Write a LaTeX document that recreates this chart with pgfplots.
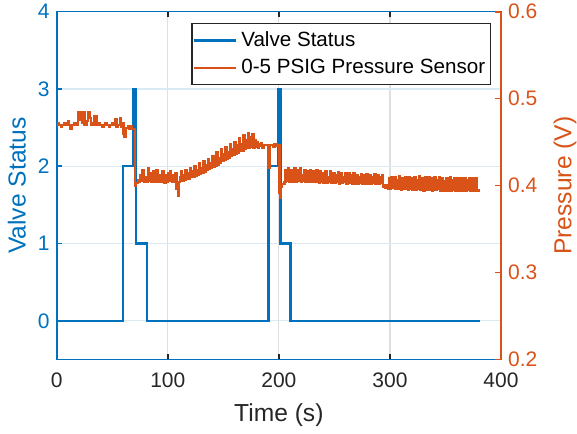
\documentclass[border=0pt]{standalone}
\usepackage{fontspec}
\setmainfont{Liberation Sans}
\usepackage{pgfplots}
\pgfplotsset{compat=1.18}

\definecolor{mblue}{RGB}{0,114,189}
\definecolor{morange}{RGB}{217,83,25}
\definecolor{mgray}{RGB}{38,38,38}
\definecolor{xgrid}{RGB}{223,223,223}
\definecolor{ygrid}{RGB}{217,234,245}

\pgfplotsset{
  common/.style={
    width=222.15pt, height=173.9pt, scale only axis,
    xmin=0, xmax=400,
    tick align=inside,
    major tick length=2.8pt,
    /pgf/number format/assume math mode=true,
    tick label style={font=\fontsize{10.5}{12}\selectfont},
    label style={font=\fontsize{12.3}{14}\selectfont},
  },
}

\begin{document}
\begin{tikzpicture}
\begin{axis}[
  common,
  ymin=-0.5, ymax=4,
  ytick={0,1,2,3,4},
  xtick={0,100,200,300,400},
  ytick pos=left,
  xmajorgrids, ymajorgrids,
  x grid style={xgrid, line width=0.6pt},
  y grid style={ygrid, line width=0.6pt},
  axis line style={mgray, line width=0.8pt},
  y axis line style={mblue},
  x tick style={mgray, line width=0.8pt},
  y tick style={mblue, line width=0.8pt},
  xticklabel style={text=mgray, yshift=-3pt},
  yticklabel style={text=mblue},
  xlabel={Time (s)},
  ylabel={Valve Status},
  xlabel style={text=mgray, yshift=-1.5pt},
  ylabel style={text=mblue, at={(axis description cs:-0.09,0.5)}, anchor=center, rotate=0},
]
\addplot[const plot, mblue, line width=1.2pt] coordinates {
  (0,0) (59.5,2) (69.3,3) (71.3,1) (81.5,0) (190.5,2) (199.3,3) (201.6,1) (210.6,0) (381,0)
};
\end{axis}
\begin{axis}[
  common,
  ymin=0.2, ymax=0.6,
  ytick={0.2,0.3,0.4,0.5,0.6},
  yticklabels={0.2,0.3,0.4,0.5,0.6},
  axis x line=none,
  axis y line*=right,
  y axis line style={morange, line width=0.8pt},
  y tick style={morange, line width=0.8pt},
  yticklabel style={text=morange},
  ylabel={Pressure (V)},
  ylabel style={text=morange, at={(axis description cs:1.144,0.5)}, anchor=center, rotate=0},
  legend cell align=left,
  legend style={at={(0.977,0.9667)}, anchor=north east, draw=mgray, line width=0.6pt,
    fill=white, font=\fontsize{10.3}{12.5}\selectfont, row sep=1pt, inner xsep=0.5pt, inner ysep=1.8pt},
  legend image code/.code={\draw[#1, line width=1.2pt] (0pt,0pt) -- (21pt,0pt);},
]
\addlegendimage{mblue}
\addlegendentry{Valve Status}
\addplot[const plot, morange, line width=1.2pt] coordinates {
  (0,.470) (1,.472) (2,.470) (4,.468) (5,.470) (7,.472) (8,.470) (10,.474) (11,.470) (12,.465)
  (14,.470) (16,.472) (17,.470) (19,.484) (20,.476) (21,.484) (23,.472) (24,.484) (25,.470)
  (27,.474) (28,.484) (30,.478) (31,.470) (33,.472) (34,.480) (36,.470) (38,.472) (39,.470)
  (41,.468) (42,.470) (44,.472) (45,.470) (47,.468) (48,.470) (50,.472) (51,.470) (53,.476)
  (54,.468) (55,.470) (57,.478) (58,.468) (59,.472) (60,.460) (61,.456) (62,.466) (64,.468)
  (65,.465) (67,.468) (68,.465)
  (70.5,.400) (71.5,.403) (73,.406) (74,.404) (75,.412) (76,.405) (77,.418) (78,.406) (79,.404)
  (80,.410) (81,.404) (82,.420) (83,.406) (84,.414) (85,.404) (86,.408) (87,.416) (88,.404)
  (89,.406) (90,.418) (91,.404) (92,.412) (93,.405) (94,.404) (95,.416) (96,.406) (97,.403)
  (98,.412) (99,.404) (100,.414) (101,.405) (102,.417) (103,.406) (104,.404) (105,.412)
  (106,.405) (107,.414) (108,.396) (109,.388) (110,.404) (111,.410)
  (112,.416) (113,.406) (114,.412) (115,.407) (116,.418) (117,.408) (118,.414) (119,.408)
  (120,.420) (121,.410) (122,.416) (123,.410) (124,.422) (125,.411) (126,.418) (127,.412)
  (128,.426) (129,.414) (130,.420) (131,.415) (132,.428) (133,.416) (134,.424) (135,.418)
  (136,.430) (137,.419) (138,.426) (139,.420) (140,.434) (141,.422) (142,.428) (143,.423)
  (144,.438) (145,.424) (146,.432) (147,.426) (148,.442) (149,.428) (150,.436) (151,.430)
  (152,.444) (153,.431) (154,.438) (155,.432) (156,.448) (157,.434) (158,.442) (159,.436)
  (160,.450) (161,.437) (162,.446) (163,.438) (164,.454) (165,.440) (166,.448) (167,.440)
  (168,.458) (169,.442) (170,.452) (171,.443) (172,.460) (173,.444) (174,.456) (175,.445)
  (176,.459) (177,.444) (178,.452) (179,.445) (180,.450) (181,.444) (182,.448) (183,.446)
  (184,.449) (185,.444) (186,.447) (190.5,.420) (191.5,.447) (195,.445) (196,.448) (198,.446)
  (200.5,.392) (201.5,.386) (202,.399) (203,.402) (205,.404) (206,.418) (207,.405) (208,.420)
  (209,.404) (210,.406) (211,.418) (212,.404) (213,.414) (214,.420) (215,.404) (216,.405)
  (217,.418) (218,.406) (219,.420) (220,.404) (221,.412) (222,.405) (223,.418) (224,.404)
  (225,.406) (226,.416) (227,.404) (228,.418) (229,.405) (230,.404) (231,.416) (232,.404)
  (233,.412) (234,.418) (235,.404) (236,.403) (237,.416) (238,.404) (239,.414) (240,.403)
  (241,.405) (242,.416) (243,.403) (244,.410) (245,.404) (246,.416) (247,.403) (248,.404)
  (249,.414) (250,.403) (251,.412) (252,.404) (253,.415) (254,.402) (255,.404) (256,.414)
  (257,.403) (258,.410) (259,.404) (260,.414) (261,.402) (262,.403) (263,.414) (264,.403)
  (265,.412) (266,.402) (267,.414) (268,.403) (269,.402) (270,.412) (271,.402) (272,.410)
  (273,.403) (274,.413) (275,.402) (276,.404) (277,.412) (278,.402) (279,.413) (280,.403)
  (281,.402) (282,.412) (283,.402) (284,.410) (285,.403) (286,.413) (287,.402) (288,.404)
  (289,.412) (290,.402) (291,.410) (292,.403) (293,.412) (294,.399) (295,.401) (296,.397)
  (297,.400) (298,.396) (299,.408) (300,.396) (301,.410) (302,.397) (303,.398) (304,.410)
  (305,.396) (306,.406) (307,.396) (308,.411) (309,.397) (310,.395) (311,.409) (312,.396)
  (313,.404) (314,.410) (315,.396) (316,.395) (317,.410) (318,.396) (319,.408) (320,.395)
  (321,.396) (322,.410) (323,.395) (324,.406) (325,.396) (326,.411) (327,.395) (328,.396)
  (329,.409) (330,.394) (331,.404) (332,.410) (333,.395) (334,.396) (335,.410) (336,.395)
  (337,.408) (338,.394) (339,.395) (340,.410) (341,.395) (342,.406) (343,.396) (344,.410)
  (345,.394) (346,.395) (347,.409) (348,.394) (349,.405) (350,.395) (351,.409) (352,.394)
  (353,.396) (354,.410) (355,.394) (356,.406) (357,.395) (358,.409) (359,.394) (360,.395)
  (361,.408) (362,.394) (363,.404) (364,.409) (365,.394) (366,.395) (367,.409) (368,.394)
  (369,.406) (370,.395) (371,.408) (372,.394) (373,.395) (374,.408) (375,.394) (376,.404)
  (377,.408) (378,.394) (379,.395) (380,.394) (381,.394)
};
\addlegendentry{0-5 PSIG Pressure Sensor}
\end{axis}
\pgfresetboundingbox
\useasboundingbox (-28.35pt,-36.75pt) rectangle (260.15pt,179.75pt);
\end{tikzpicture}
\end{document}
